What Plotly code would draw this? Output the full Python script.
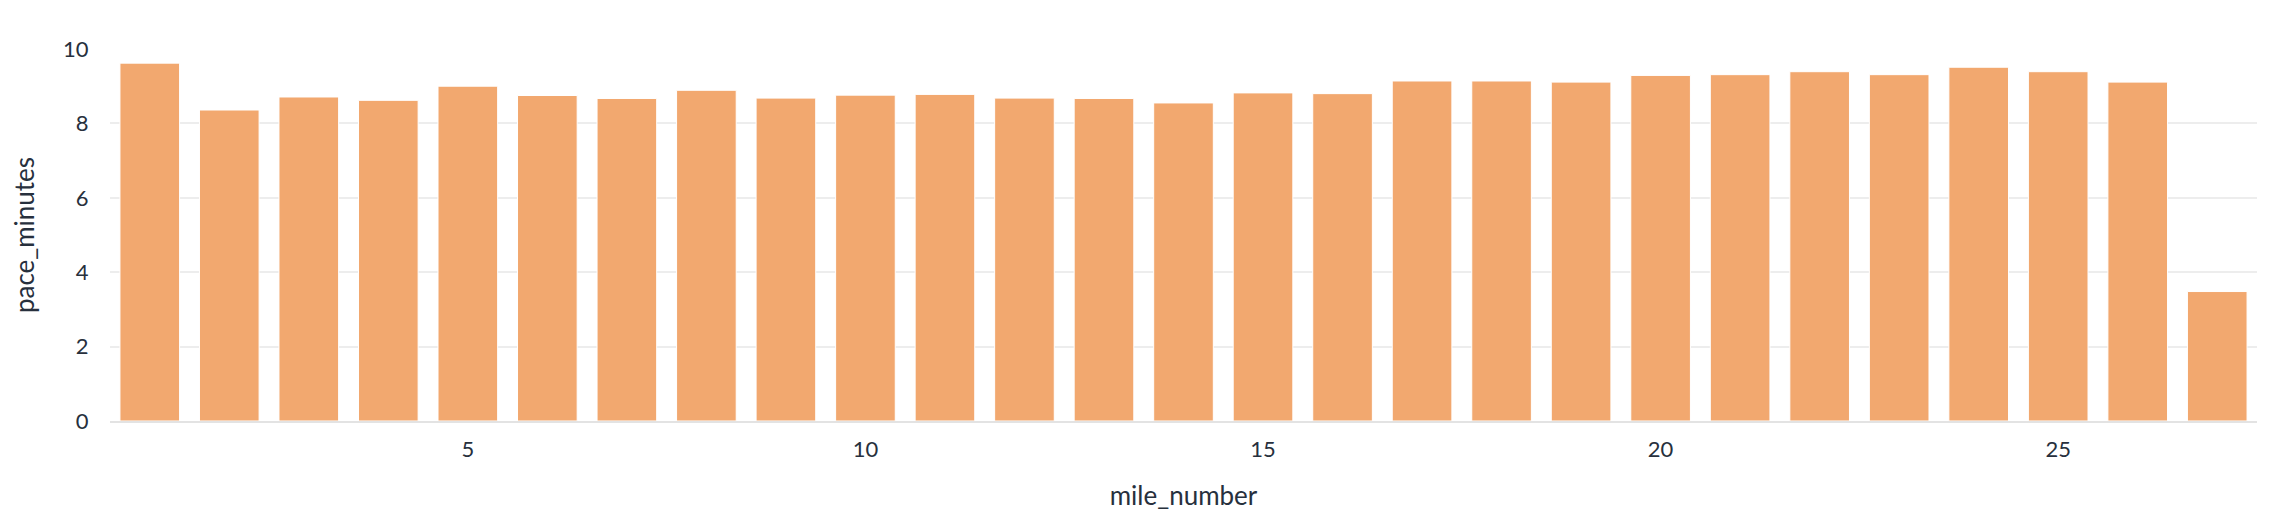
import plotly.graph_objects as go

# mile splits
mile_number = list(range(1, 28))
pace_minutes = [9.62, 8.36, 8.71, 8.62, 9.00, 8.75, 8.67, 8.89, 8.68, 8.76,
                8.78, 8.68, 8.67, 8.55, 8.82, 8.80, 9.14, 9.14, 9.11, 9.29,
                9.31, 9.39, 9.31, 9.51, 9.39, 9.11, 3.48]

bar_color = '#F2A86F'
text_color = '#27303d'

fig = go.Figure(go.Bar(
    x=mile_number,
    y=pace_minutes,
    marker=dict(color=bar_color, line=dict(color='#ffffff', width=1)),
))

fig.update_layout(
    width=2275, height=510,
    paper_bgcolor='white', plot_bgcolor='white',
    margin=dict(l=102, r=26, t=41, b=91),
    bargap=0.25,
    font=dict(family='Lato', size=22, color=text_color),
    showlegend=False,
)
fig.update_xaxes(
    title=dict(text='mile_number', standoff=25),
    range=[0.5, 27.5], tick0=0, dtick=5,
    showgrid=False, zeroline=False,
    showline=True, linecolor='#e3e3e3', linewidth=2,
    ticks='outside', ticklen=8, tickcolor='rgba(0,0,0,0)',
)
fig.update_yaxes(
    title=dict(text='pace_minutes', standoff=20),
    range=[0, 10], dtick=2,
    showgrid=True, gridcolor='#ededed', gridwidth=1.5,
    zeroline=False,
    ticks='outside', ticklen=16, tickcolor='rgba(0,0,0,0)',
)

fig.write_html('out.html')
